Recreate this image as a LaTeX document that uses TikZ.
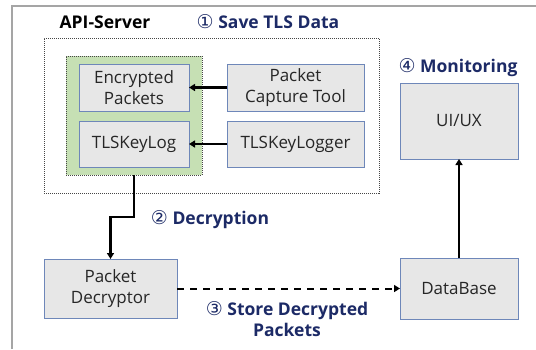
\documentclass[tikz,border=0pt]{standalone}
\usepackage{fontspec}
\setmainfont{Open Sans}
\newfontfamily\circfont{DejaVu Sans}
\usetikzlibrary{arrows.meta}
\definecolor{boxfill}{RGB}{231,231,231}
\definecolor{boxline}{RGB}{110,135,185}
\definecolor{greenfill}{RGB}{198,224,180}
\definecolor{navy}{RGB}{28,42,102}
\definecolor{framegray}{RGB}{165,165,165}
\definecolor{darkline}{RGB}{70,70,70}
\newcommand{\circnum}[1]{{\circfont\mdseries\fontsize{19}{21}\selectfont #1}}
\begin{document}
\begin{tikzpicture}[x=1pt,y=-1pt,
  every node/.style={inner sep=0pt, outer sep=0pt},
  boxnode/.style={draw=boxline, line width=0.8pt, fill=boxfill, align=center,
    font=\fontsize{17}{21}\selectfont, text=black!85},
  groupbox/.style={draw=darkline, densely dotted, line width=1pt},
  title/.style={font=\bfseries\fontsize{17.5}{21}\selectfont, text=navy, align=center},
  conn/.style={line width=2.6pt, -{Triangle[length=6pt,width=7pt]}},
]
\useasboundingbox (0,0) rectangle (536,349);
\draw[framegray, line width=1.8pt] (12,349) -- (12,6) -- (536,6);

% groups
\node[groupbox, fill=white, minimum width=335pt, minimum height=155pt] (api) at (211.5,115.5) {};
\node[groupbox, fill=greenfill, minimum width=136pt, minimum height=119pt] (green) at (134,115.5) {};

% boxes
\node[boxnode, minimum width=110pt, minimum height=47pt] (enc) at (134,87.5) {Encrypted\\Packets};
\node[boxnode, minimum width=110pt, minimum height=46pt] (tkl) at (134,144) {TLSKeyLog};
\node[boxnode, minimum width=137pt, minimum height=47pt] (pct) at (295.5,87.5) {Packet\\Capture Tool};
\node[boxnode, minimum width=137pt, minimum height=46pt] (tklr) at (295.5,144) {TLSKeyLogger};
\node[boxnode, minimum width=133pt, minimum height=59pt] (pd) at (110.5,288.5) {Packet\\Decryptor};
\node[boxnode, minimum width=118pt, minimum height=61pt] (db) at (459,288.5) {DataBase};
\node[boxnode, minimum width=118pt, minimum height=76pt] (ui) at (459,121) {UI/UX};

% labels
\node[title, text=black] (apil) at (105,22) {API-Server};
\node[title] (l1) at (268,22) {\circnum{①} Save TLS Data};
\node[title] (l2) at (210,220) {\circnum{②} Decryption};
\node[title] (l3) at (287,319) {\circnum{③} Store Decrypted\\Packets};
\node[title] (l4) at (458,68) {\circnum{④} Monitoring};

% connectors
\coordinate (bend) at (134,217);
\draw[conn] (pct.west) -- (enc.east);
\draw[conn] (tklr.west) -- (tkl.east);
\draw[conn] (green.south) -- (bend) -| (pd.north);
\draw[conn, line width=2pt, dash pattern=on 7pt off 6pt] (pd.east) -- (db.west);
\draw[conn] (db.north) -- (ui.south);
\end{tikzpicture}
\end{document}
